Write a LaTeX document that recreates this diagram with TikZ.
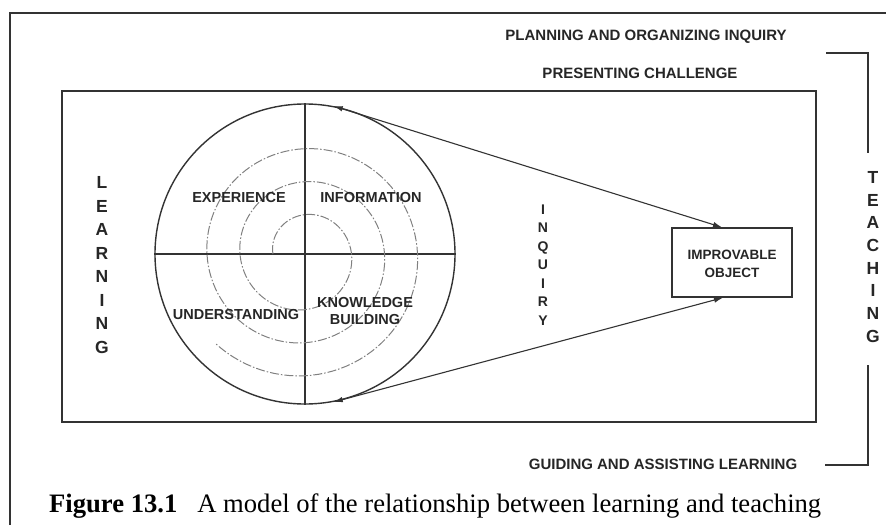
\documentclass[tikz,border=0pt]{standalone}
\usepackage{fontspec}
\setmainfont{Liberation Serif}
\newfontfamily\labfont{Liberation Sans}
\usetikzlibrary{arrows.meta}
\begin{document}
\begin{tikzpicture}[x=1pt,y=-1pt,
  frame/.style={draw=black!80, line width=2pt},
  mainline/.style={draw=black!80, line width=1.4pt},
  lab/.style={font=\labfont\bfseries\fontsize{14.5}{15}\selectfont, text=black!85, inner sep=0pt, align=center},
  vert/.style={font=\labfont\bfseries\fontsize{17.5}{23.5}\selectfont, text=black!85, inner sep=0pt, align=center},
  vertsmall/.style={font=\labfont\bfseries\fontsize{14}{18.5}\selectfont, text=black!85, inner sep=0pt, align=center},
  spiral/.style={draw=black!50, line width=1pt, dash pattern=on 9pt off 2pt on 1.5pt off 2pt},
  arr/.style={draw=black!80, line width=1.1pt, {Latex[length=9pt,width=5.5pt]}-{Latex[length=9pt,width=5.5pt]}}
]
\useasboundingbox (0,0) rectangle (886,525);
% outer frame
\coordinate (fa) at (10,525);
\coordinate (fb) at (10,13);
\coordinate (fc) at (886,13);
\draw[frame] (fa) -- (fb) -- (fc);
% inner rectangle
\node[mainline, draw, minimum width=754pt, minimum height=331pt, inner sep=0pt] (box) at (439,256.5) {};
% circle
\node[mainline, draw, circle, minimum size=300pt, inner sep=0pt] (c) at (305,254) {};
\draw[mainline] (c.north) -- (c.south);
\draw[mainline] (c.west) -- (c.east);
% spiral
\draw[spiral] plot[domain=180:1215, samples=300, variable=\a]
  ({304+(31+0.0917*(\a-180))*cos(\a)}, {254+(31+0.0917*(\a-180))*sin(\a)});
% quadrant labels
\node[lab] (exp) at (239,198) {EXPERIENCE};
\node[lab] (inf) at (371,198) {INFORMATION};
\node[lab] (und) at (236,315) {UNDERSTANDING};
\node[lab, font=\labfont\bfseries\fontsize{14.5}{17}\selectfont] (kb) at (365,311) {KNOWLEDGE\\BUILDING};
% improvable object
\node[mainline, draw, minimum width=120pt, minimum height=69pt, inner sep=0pt] (obj) at (732,262.5) {};
\node[lab, font=\labfont\bfseries\fontsize{13.5}{18}\selectfont] (objt) at (732,264) {IMPROVABLE\\OBJECT};
% arrows
\draw[arr] (c.79) -- ([xshift=-10pt]obj.north);
\draw[arr] (c.-79) -- ([xshift=-9pt]obj.south);
% vertical words
\node[vert] (learn) at (102,265) {L\\E\\A\\R\\N\\I\\N\\G};
\node[vert, font=\labfont\bfseries\fontsize{17.5}{22.7}\selectfont] (teach) at (873,257) {T\\E\\A\\C\\H\\I\\N\\G};
\node[vertsmall] (inq) at (543,265) {I\\N\\Q\\U\\I\\R\\Y};
% top/bottom texts
\node[lab, font=\labfont\bfseries\fontsize{15}{15}\selectfont] (plan) at (646,37) {PLANNING AND ORGANIZING INQUIRY};
\node[lab, font=\labfont\bfseries\fontsize{15}{15}\selectfont] (pres) at (640,73) {PRESENTING CHALLENGE};
\node[lab, font=\labfont\bfseries\fontsize{15}{15}\selectfont] (guide) at (663,464) {GUIDING AND ASSISTING LEARNING};
% bracket
\coordinate (b1) at (826,53);
\coordinate (b2) at (868,53);
\coordinate (b3) at (868,153);
\coordinate (b4) at (868,365);
\coordinate (b5) at (868,465);
\coordinate (b6) at (825,465);
\draw[mainline] (b1) -- (b2) -- (b3);
\draw[mainline] (b4) -- (b5) -- (b6);
% caption
\node[inner sep=0pt, anchor=west] (cap) at (49,506) {\resizebox{772pt}{!}{\textbf{Figure 13.1}\hspace{0.5em} A model of the relationship between learning and teaching}};
\end{tikzpicture}
\end{document}
